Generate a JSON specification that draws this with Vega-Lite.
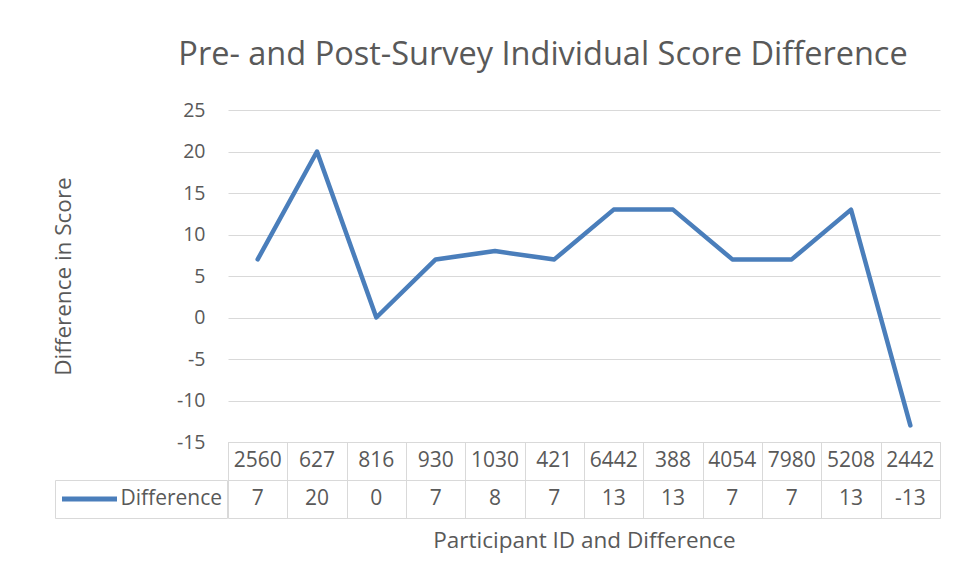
{
  "$schema": "https://vega.github.io/schema/vega-lite/v6.json",
  "width": 712,
  "height": 332,
  "autosize": {"type": "none"},
  "padding": {"left": 228, "top": 110, "right": 14, "bottom": 139},
  "background": "white",
  "config": {"font": "Open Sans", "view": {"stroke": null}},
  "title": {
    "text": "Pre- and Post-Survey Individual Score Difference",
    "fontSize": 32.5,
    "fontWeight": "normal",
    "color": "#595959",
    "dx": -41,
    "offset": 3,
    "baseline": "alphabetic"
  },
  "data": {
    "values": [
      {"id": "2560", "diff": 7},
      {"id": "627", "diff": 20},
      {"id": "816", "diff": 0},
      {"id": "930", "diff": 7},
      {"id": "1030", "diff": 8},
      {"id": "421", "diff": 7},
      {"id": "6442", "diff": 13},
      {"id": "388", "diff": 13},
      {"id": "4054", "diff": 7},
      {"id": "7980", "diff": 7},
      {"id": "5208", "diff": 13},
      {"id": "2442", "diff": -13}
    ]
  },
  "encoding": {
    "x": {
      "field": "id",
      "type": "nominal",
      "sort": null,
      "scale": {"type": "band", "paddingInner": 0, "paddingOuter": 0},
      "axis": {
        "orient": "bottom",
        "domain": true,
        "domainColor": "#d9d9d9",
        "ticks": true,
        "tickBand": "extent",
        "tickSize": 76,
        "tickColor": "#d9d9d9",
        "labels": false,
        "grid": false,
        "title": "Participant ID and Difference",
        "titleFontSize": 22.5,
        "titleFontWeight": "normal",
        "titleColor": "#595959",
        "titlePadding": 11
      }
    }
  },
  "layer": [
    {
      "mark": {"type": "line", "strokeWidth": 4.5, "strokeJoin": "round", "strokeCap": "round"},
      "encoding": {
        "y": {
          "field": "diff",
          "type": "quantitative",
          "scale": {"domain": [-15, 25]},
          "axis": {
            "orient": "left",
            "values": [-15, -10, -5, 0, 5, 10, 15, 20, 25],
            "grid": true,
            "gridColor": "#d9d9d9",
            "domain": false,
            "ticks": false,
            "labelPadding": 23,
            "labelFontSize": 19.5,
            "labelColor": "#595959",
            "labelExpr": "'' + datum.value",
            "title": "Difference in Score",
            "titleFontSize": 22.5,
            "titleFontWeight": "normal",
            "titleColor": "#595959",
            "titleX": -158,
            "titleY": 166,
            "titleBaseline": "alphabetic",
            "titleAlign": "center"
          }
        },
        "color": {
          "datum": "Difference",
          "type": "nominal",
          "scale": {"range": ["#4a7ebb"]},
          "legend": {
            "orient": "none",
            "legendX": -173,
            "legendY": 370,
            "title": null,
            "padding": 4.5,
            "strokeColor": "#d9d9d9",
            "symbolType": "stroke",
            "symbolSize": 3025,
            "symbolStrokeWidth": 5,
            "labelFontSize": 21,
            "labelColor": "#595959",
            "labelOffset": 1,
            "clipHeight": 29
          }
        }
      }
    },
    {
      "transform": [{"fold": ["id", "diff"], "as": ["key", "value"]}],
      "mark": {"type": "text", "fontSize": 21, "color": "#595959"},
      "encoding": {
        "y": {
          "field": "key",
          "type": "nominal",
          "scale": {"type": "band", "domain": ["id", "diff"], "range": [332, 408], "paddingInner": 0, "paddingOuter": 0},
          "axis": {
            "orient": "left",
            "grid": true,
            "gridColor": "#d9d9d9",
            "tickBand": "extent",
            "ticks": false,
            "labels": false,
            "domain": false,
            "title": null
          }
        },
        "text": {"field": "value", "type": "nominal"}
      }
    }
  ],
  "resolve": {"scale": {"y": "independent"}, "axis": {"y": "independent"}}
}
